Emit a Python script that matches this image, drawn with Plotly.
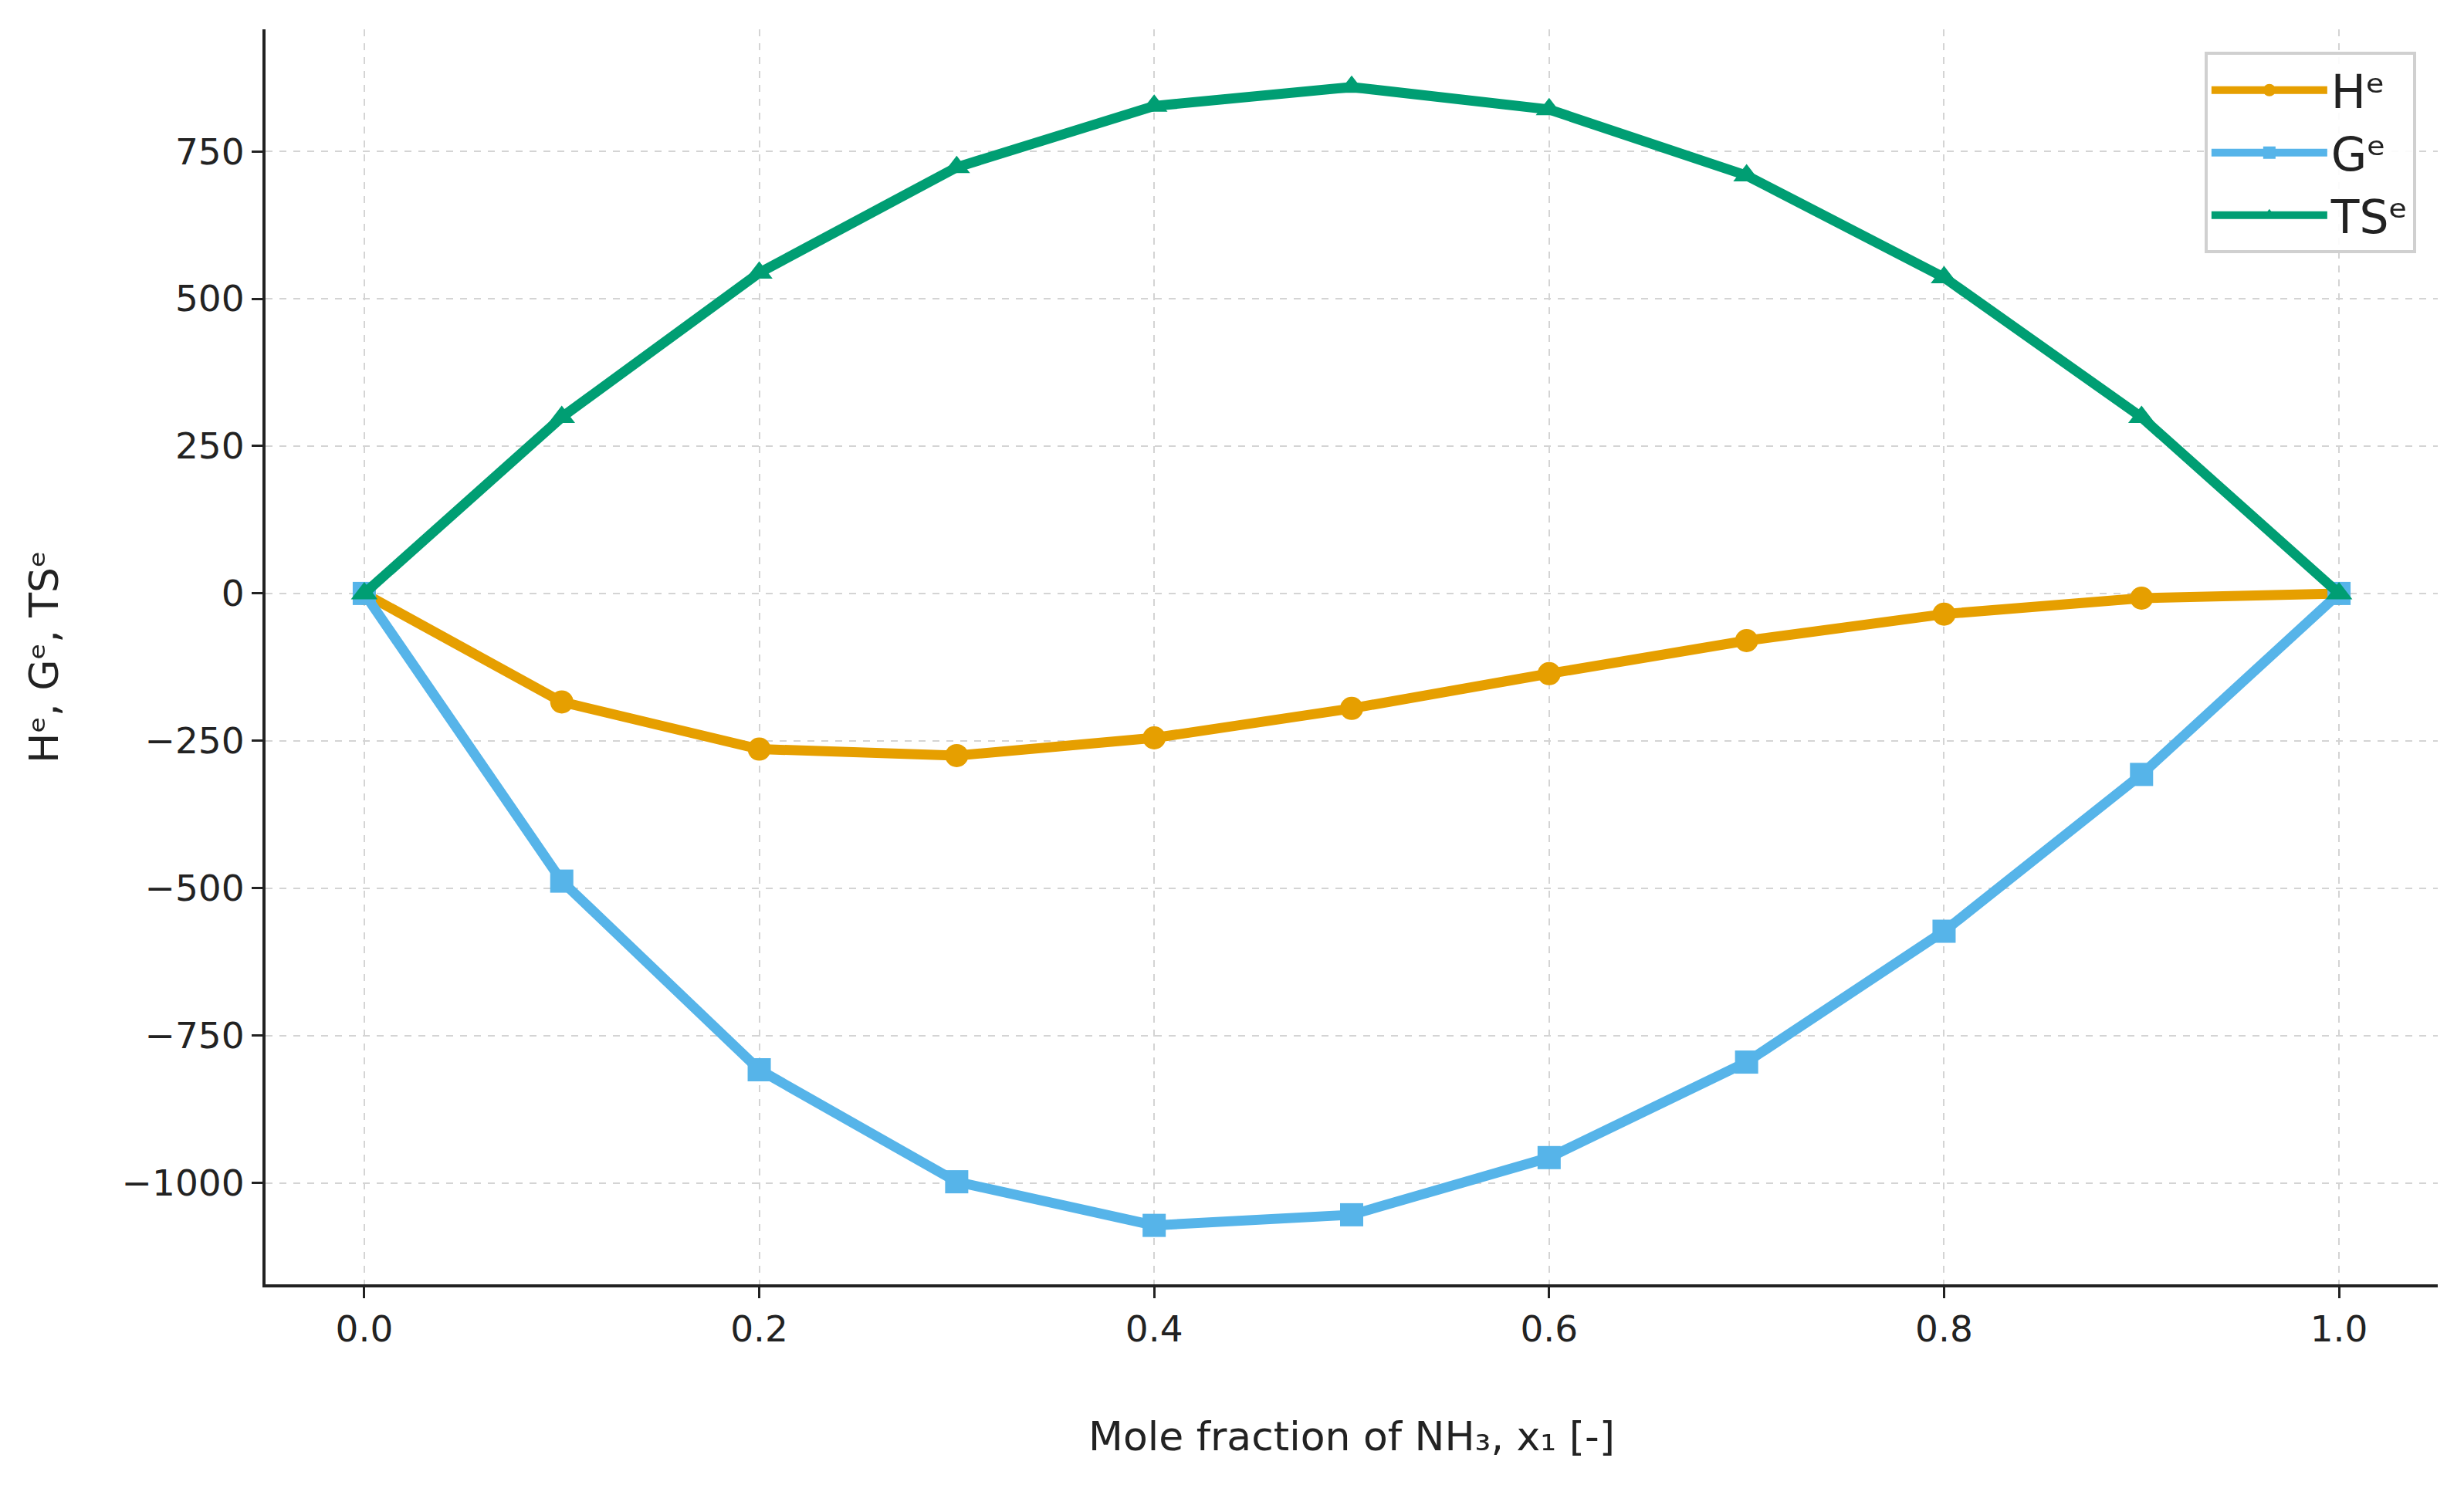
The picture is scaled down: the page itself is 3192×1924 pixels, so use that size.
import plotly.graph_objects as go

x1 = [0.0, 0.1, 0.2, 0.3, 0.4, 0.5, 0.6, 0.7, 0.8, 0.9, 1.0]
He = [0, -184, -264, -275, -245, -195, -136, -80, -35, -8, 0]
Ge = [0, -488, -808, -998, -1072, -1054, -957, -795, -573, -307, 0]
TSe = [0, 299, 544, 723, 827, 859, 821, 709, 536, 299, 0]

x_ticks = [0.0, 0.2, 0.4, 0.6, 0.8, 1.0]
y_ticks = [-1000, -750, -500, -250, 0, 250, 500, 750]

series = [
    ("Hᵉ", He, "#E69F00", "circle"),
    ("Gᵉ", Ge, "#56B4E9", "square"),
    ("TSᵉ", TSe, "#009E73", "triangle-up"),
]

FONT = "DejaVu Sans"
fig = go.Figure()
for name, vals, color, sym in series:
    fig.add_trace(go.Scatter(
        x=x1, y=vals, name=name, mode="lines+markers",
        line=dict(color=color, width=13),
        marker=dict(symbol=sym, size=30, color=color),
    ))

axis_common = dict(
    showgrid=True, gridcolor="#d4d4d4", griddash="dash", gridwidth=2,
    showline=True, linecolor="#222222", linewidth=4,
    ticks="outside", ticklen=14, tickwidth=3, tickcolor="#222222",
    zeroline=False, mirror=False,
    tickfont=dict(family=FONT, size=47, color="#222222"),
)

fig.update_layout(
    width=3192, height=1924,
    paper_bgcolor="white", plot_bgcolor="white",
    margin=dict(l=336, r=42, t=30, b=268),
    font=dict(family=FONT, color="#222222"),
    xaxis=dict(
        range=[-0.05, 1.05], tickvals=x_ticks, tickformat=".1f",
        title=dict(text="Mole fraction of NH₃, x₁ [-]", font=dict(family=FONT, size=52), standoff=95),
        **axis_common,
    ),
    yaxis=dict(
        range=[-1172, 957], tickvals=y_ticks,
        title=dict(text="Hᵉ, Gᵉ, TSᵉ", font=dict(family=FONT, size=52), standoff=66),
        **axis_common,
    ),
    legend=dict(
        x=0.99, y=0.982, xanchor="right", yanchor="top",
        bgcolor="rgba(255,255,255,0.9)", bordercolor="#d0d0d0", borderwidth=4,
        font=dict(family=FONT, size=60, color="#222222"),
        itemwidth=150,
    ),
    showlegend=True,
)

fig.write_html("out.html")
